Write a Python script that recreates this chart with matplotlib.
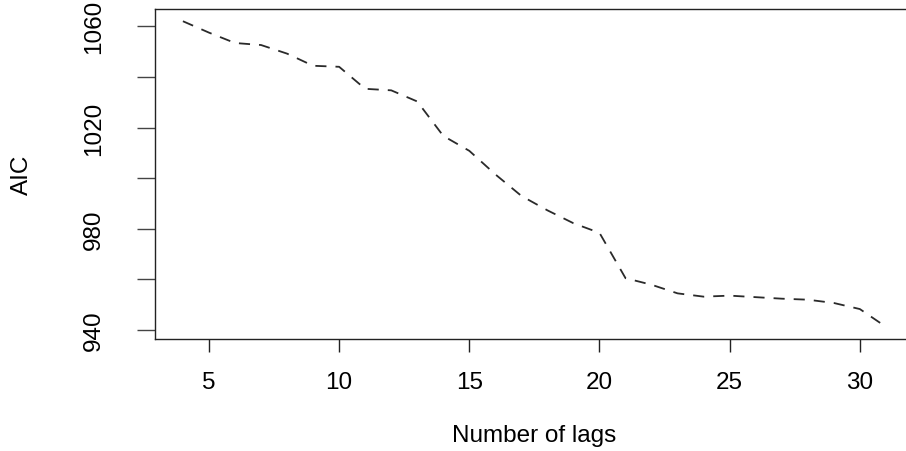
import matplotlib
matplotlib.use("Agg")
import matplotlib.pyplot as plt

lags = list(range(4, 32))
aic = [1062.0, 1057.5, 1053.4, 1052.6, 1049.2, 1044.4, 1044.0, 1035.3, 1034.7,
       1030.3, 1016.7, 1010.8, 1001.5, 993.0, 987.3, 982.2, 978.4, 960.5,
       957.9, 954.5, 953.2, 953.6, 953.0, 952.4, 952.0, 950.7, 948.3, 941.3]
xticks = [5, 10, 15, 20, 25, 30]
yticks = [940, 960, 980, 1000, 1020, 1040, 1060]
yticklabels = ["940", "", "980", "", "1020", "", "1060"]

plt.rcParams['font.family'] = ['Liberation Sans', 'DejaVu Sans']
plt.rcParams['lines.scale_dashes'] = False

W, H = 906, 452
fig = plt.figure(figsize=(W / 100, H / 100), dpi=100)
left, right, top, bottom = 154.8, 914.0, 10.0, 340.0
ax = fig.add_axes([left / W, 1 - bottom / H, (right - left) / W, (bottom - top) / H])

ax.plot(lags, aic, color='#2a2a2a', lw=1.3, linestyle=(0, (8, 6.5)))

xmin, xmax = min(lags), max(lags)
dx = (xmax - xmin) * 0.04
ax.set_xlim(xmin - dx, xmax + dx)
ymin, ymax = min(aic), max(aic)
dy = (ymax - ymin) * 0.04
ax.set_ylim(ymin - dy, ymax + dy)

ax.set_xticks(xticks)
ax.set_xticklabels([str(t) for t in xticks])
ax.set_yticks(yticks)
ax.set_yticklabels(yticklabels, rotation=90, va='center')

for s in ax.spines.values():
    s.set_linewidth(1.0)
    s.set_color('#222222')

ax.tick_params(axis='x', length=9.4, width=1.0, pad=13.5, labelsize=17.5, color='#222222')
ax.tick_params(axis='y', length=13, width=1.0, pad=23, labelsize=17.5, color='#444444')

ax.set_xlabel('Number of lags', fontsize=17.5, va='center')
ax.xaxis.set_label_coords(0.5, -0.291)
ax.set_ylabel('AIC', fontsize=17.5, va='center')
ax.yaxis.set_label_coords(-0.175, 0.5)

fig.savefig('out.png', dpi=100)
